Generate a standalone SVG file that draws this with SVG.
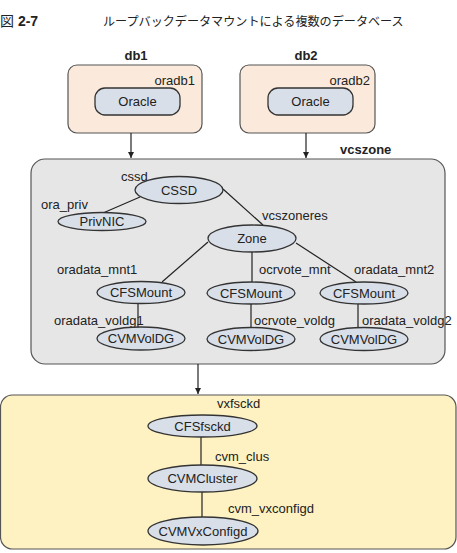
<svg xmlns="http://www.w3.org/2000/svg" width="457" height="553" viewBox="0 0 457 553">
<style>
text{font-family:"Liberation Sans",Arial,sans-serif;font-size:13px;fill:#222}
.b{font-weight:bold}
.m{text-anchor:middle}
.e{fill:#d9dfe8;stroke:#333;stroke-width:1.3}
.l{stroke:#222;stroke-width:1.2;fill:none}
.jp{font-family:"Liberation Sans","Noto Sans CJK JP",sans-serif}
</style>
<defs>
<marker id="ah" markerWidth="8" markerHeight="8" refX="7" refY="4" orient="auto" markerUnits="userSpaceOnUse">
<path d="M1,1 L7,4 L1,7 Z" fill="#222"/>
</marker>
</defs>
<rect width="457" height="553" fill="#fff"/>
<text x="0" y="26" class="jp" style="font-size:14px">図 <tspan class="b">2-7</tspan></text>
<text x="103" y="26" class="jp" style="font-size:12.1px">ループバックデータマウントによる複数のデータベース</text>

<g id="db1">
<text x="136" y="60" class="b m">db1</text>
<rect x="68" y="65" width="134" height="68" rx="9" fill="#fbeadb" stroke="#555" stroke-width="1.2"/>
<text x="195" y="85" text-anchor="end">oradb1</text>
<g id="oracle1"><rect x="95" y="88" width="85" height="27" rx="10" class="e"/><text x="137.5" y="106" class="m">Oracle</text></g>
</g>
<g id="db2">
<text x="306" y="60" class="b m">db2</text>
<rect x="240" y="65" width="135" height="68" rx="9" fill="#fbeadb" stroke="#555" stroke-width="1.2"/>
<text x="370" y="85" text-anchor="end">oradb2</text>
<g id="oracle2"><rect x="268" y="88" width="85" height="27" rx="10" class="e"/><text x="310.5" y="106" class="m">Oracle</text></g>
</g>

<g id="vcszone">
<text x="340" y="154" class="b">vcszone</text>
<rect x="31" y="159" width="414" height="205" rx="14" fill="#e6e6e6" stroke="#555" stroke-width="1.2"/>
</g>
<g id="cluster">
<rect x="0.5" y="395" width="455.5" height="154" rx="12" fill="#fef2c2" stroke="#555" stroke-width="1.2"/>
</g>

<g id="connectors">
<line x1="131" y1="133" x2="131" y2="158" class="l" marker-end="url(#ah)"/>
<line x1="306" y1="133" x2="306" y2="158" class="l" marker-end="url(#ah)"/>
<line x1="198" y1="364" x2="198" y2="394" class="l" marker-end="url(#ah)"/>
<line x1="103" y1="213" x2="140" y2="197" class="l"/>
<line x1="223" y1="189" x2="263" y2="225" class="l"/>
<line x1="208" y1="242" x2="162" y2="282" class="l"/>
<line x1="252" y1="252" x2="252" y2="282" class="l"/>
<line x1="296" y1="243" x2="356" y2="282" class="l"/>
<line x1="138" y1="303" x2="138" y2="327" class="l"/>
<line x1="251" y1="304" x2="251" y2="327" class="l"/>
<line x1="358" y1="304" x2="358" y2="327" class="l"/>
<line x1="201" y1="437" x2="201" y2="465" class="l"/>
<line x1="202" y1="492" x2="202" y2="517" class="l"/>
</g>

<g id="cssd"><text x="121" y="181">cssd</text><ellipse cx="179" cy="190" rx="44" ry="13.5" class="e"/><text x="179" y="195" class="m">CSSD</text></g>
<g id="privnic"><text x="41" y="209">ora_priv</text><ellipse cx="102" cy="221.5" rx="44" ry="9" class="e"/><text x="102" y="226" class="m">PrivNIC</text></g>
<g id="zone"><text x="262" y="220">vcszoneres</text><ellipse cx="252" cy="238.5" rx="44" ry="13.5" class="e"/><text x="252" y="243" class="m">Zone</text></g>
<g id="cfsmount1"><text x="57" y="274">oradata_mnt1</text><ellipse cx="141" cy="292.5" rx="44" ry="11" class="e"/><text x="141" y="297" class="m">CFSMount</text></g>
<g id="cfsmount2"><text x="259" y="274">ocrvote_mnt</text><ellipse cx="251" cy="293" rx="44" ry="11" class="e"/><text x="251" y="297.5" class="m">CFSMount</text></g>
<g id="cfsmount3"><text x="354" y="274">oradata_mnt2</text><ellipse cx="364" cy="293" rx="44" ry="11" class="e"/><text x="364" y="297.5" class="m">CFSMount</text></g>
<g id="cvmvoldg1"><text x="54" y="325">oradata_voldg1</text><ellipse cx="141" cy="338.5" rx="44" ry="11.5" class="e"/><text x="141" y="343" class="m">CVMVolDG</text></g>
<g id="cvmvoldg2"><text x="254" y="325">ocrvote_voldg</text><ellipse cx="251" cy="339" rx="44" ry="11.5" class="e"/><text x="251" y="343.5" class="m">CVMVolDG</text></g>
<g id="cvmvoldg3"><text x="362" y="325">oradata_voldg2</text><ellipse cx="364" cy="339" rx="44" ry="11.5" class="e"/><text x="364" y="343.5" class="m">CVMVolDG</text></g>

<g id="cfsfsckd"><text x="217" y="408">vxfsckd</text><ellipse cx="202.5" cy="426" rx="54.5" ry="11" class="e"/><text x="202.5" y="430.5" class="m">CFSfsckd</text></g>
<g id="cvmcluster"><text x="215" y="461">cvm_clus</text><ellipse cx="202.5" cy="478.5" rx="54.5" ry="13.5" class="e"/><text x="202.5" y="483" class="m">CVMCluster</text></g>
<g id="cvmvxconfigd"><text x="228" y="513">cvm_vxconfigd</text><ellipse cx="203" cy="531" rx="55" ry="14" class="e"/><text x="203" y="535.5" class="m">CVMVxConfigd</text></g>
</svg>
